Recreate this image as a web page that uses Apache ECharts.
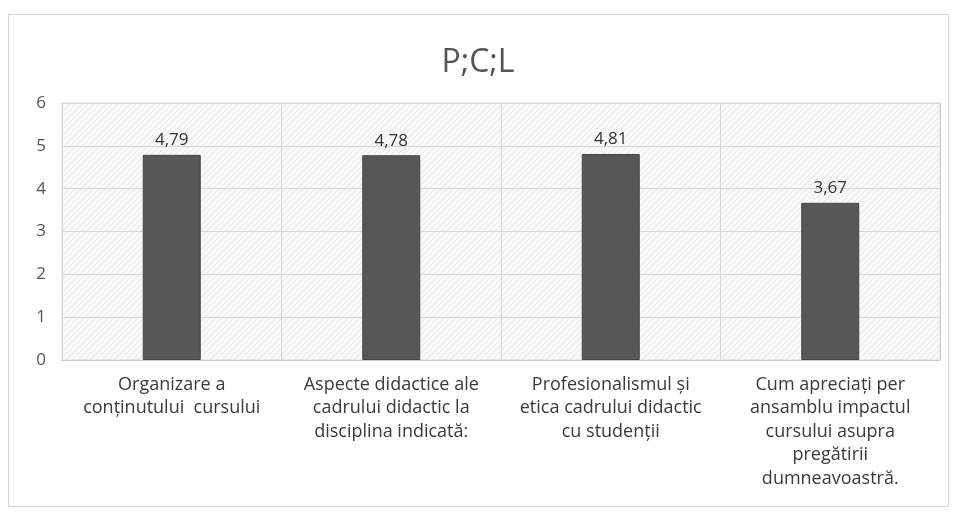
<!DOCTYPE html>
<html>
<head>
<meta charset="utf-8">
<title>P;C;L</title>
<script src="https://cdn.jsdelivr.net/npm/echarts@6/dist/echarts.min.js"></script>
<style>
  html, body { margin: 0; padding: 0; background: #fff; }
  #chart { width: 956px; height: 516px; }
</style>
</head>
<body>
<div id="chart"></div>
<script>
// date din grafic
var categories = [
  "Organizare a\nconținutului  cursului",
  "Aspecte didactice ale\ncadrului didactic la\ndisciplina indicată:",
  "Profesionalismul și\netica cadrului didactic\ncu studenții",
  "Cum apreciați per\nansamblu impactul\ncursului asupra\npregătirii\ndumneavoastră."
];
var values = [4.79, 4.78, 4.81, 3.67];
var yTicks = [0, 1, 2, 3, 4, 5, 6];

// fundal hasurat ca in scan
function hatch() {
  var c = document.createElement("canvas");
  c.width = 6;
  c.height = 6;
  var ctx = c.getContext("2d");
  ctx.fillStyle = "#f9f9f9";
  ctx.fillRect(0, 0, 6, 6);
  ctx.strokeStyle = "#e6e6e6";
  ctx.lineWidth = 1;
  ctx.beginPath();
  ctx.moveTo(0, 6);
  ctx.lineTo(6, 0);
  ctx.stroke();
  return c;
}

var myChart = echarts.init(document.getElementById("chart"));
var font = "'Open Sans', 'Liberation Sans', sans-serif";
var option = {
  backgroundColor: "#fff",
  animation: false,
  title: {
    text: "P;C;L",
    left: "center",
    top: 42,
    textStyle: { fontFamily: font, fontSize: 32, fontWeight: "normal", color: "#555" }
  },
  graphic: [
    {
      type: "rect",
      shape: { x: 8.5, y: 14.5, width: 940, height: 492 },
      style: { fill: "none", stroke: "#d6d6d6", lineWidth: 1 },
      silent: true
    }
  ],
  grid: {
    left: 62,
    right: 16,
    top: 103,
    bottom: 156,
    show: true,
    borderWidth: 1,
    borderColor: "#d9d9d9",
    backgroundColor: { image: hatch(), repeat: "repeat" }
  },
  xAxis: {
    type: "category",
    data: categories,
    axisLine: { show: true, lineStyle: { color: "#c8c8c8" } },
    axisTick: { show: false },
    splitLine: { show: true, interval: 0, lineStyle: { color: "#d6d6d6" } },
    axisLabel: {
      interval: 0,
      margin: 13,
      fontFamily: font,
      fontSize: 18,
      lineHeight: 23.5,
      color: "#3a3a3a",
      align: "center"
    }
  },
  yAxis: {
    type: "value",
    min: yTicks[0],
    max: yTicks[yTicks.length - 1],
    interval: 1,
    axisLine: { show: false },
    axisTick: { show: false },
    splitLine: { show: true, lineStyle: { color: "#d6d6d6" } },
    axisLabel: { fontFamily: font, fontSize: 17, color: "#555", margin: 16 }
  },
  series: [
    {
      type: "bar",
      data: values,
      barWidth: 58,
      itemStyle: { color: "#575757", borderColor: "#444", borderWidth: 1 },
      label: {
        show: true,
        position: "top",
        distance: 6,
        fontFamily: font,
        fontSize: 17,
        color: "#333",
        formatter: function (p) {
          return p.value.toFixed(2).replace(".", ",");
        }
      }
    }
  ]
};
option && myChart.setOption(option);
</script>
</body>
</html>
